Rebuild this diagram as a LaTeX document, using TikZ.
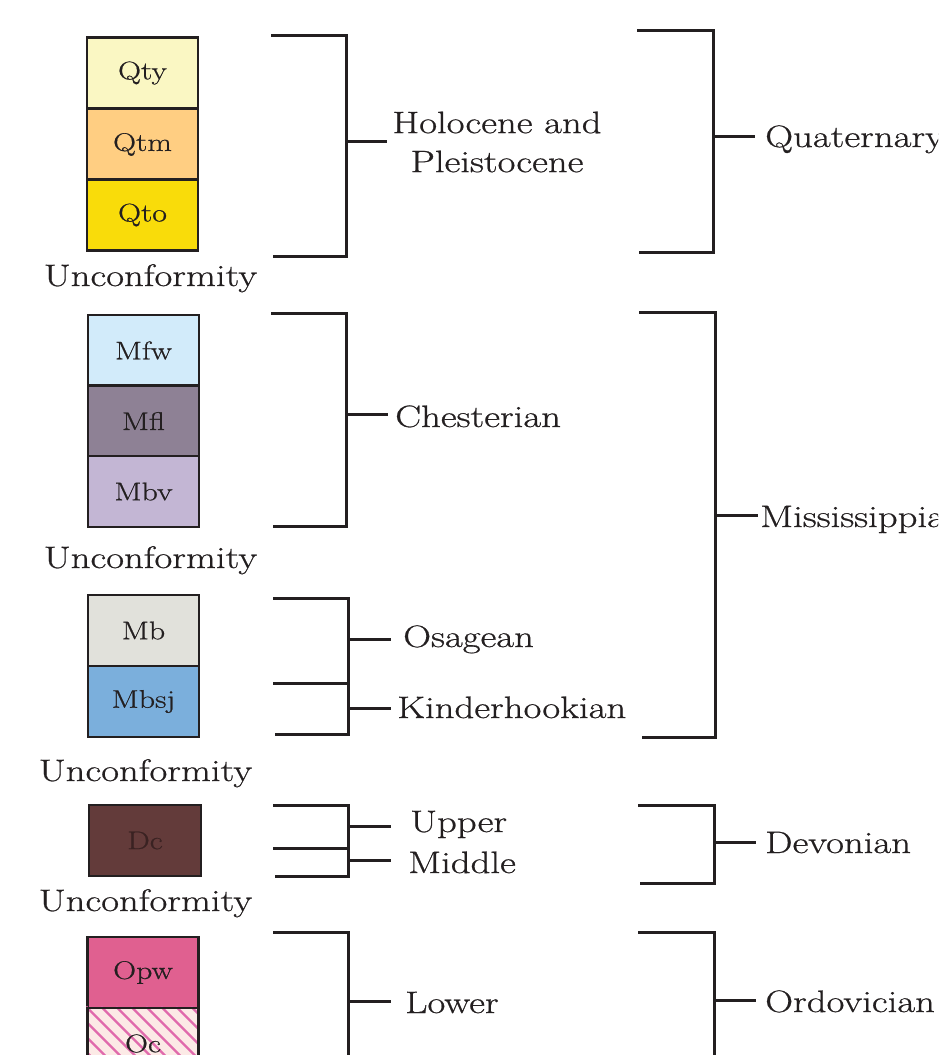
\documentclass[tikz,border=0pt]{standalone}
\usepackage{fontspec}
\setmainfont{Latin Modern Roman}[FakeStretch=1.25, FakeBold=0.7]
\definecolor{ink}{HTML}{231F20}
\definecolor{cQty}{HTML}{FAF7C3}
\definecolor{cQtm}{HTML}{FFCE82}
\definecolor{cQto}{HTML}{F9DC0A}
\definecolor{cMfw}{HTML}{D2EBFA}
\definecolor{cMfl}{HTML}{8E8195}
\definecolor{cMbv}{HTML}{C3B6D4}
\definecolor{cMb}{HTML}{E1E1DB}
\definecolor{cMbsj}{HTML}{7BAFDC}
\definecolor{cDc}{HTML}{633B3A}
\definecolor{cDcText}{HTML}{3A2222}
\definecolor{cOpw}{HTML}{E06090}
\definecolor{cOc}{HTML}{FCEAE6}
\definecolor{cHatch}{HTML}{E06AAC}
\begin{document}
\begin{tikzpicture}[x=1pt,y={(0,-1pt)}]
\tikzset{
  unitbox/.style={draw=ink, line width=2.6pt, minimum width=111pt, minimum height=71pt,
    inner sep=0pt, font=\fontsize{25.5}{28}\selectfont, text=ink},
  lbl/.style={font=\fontsize{31}{39}\selectfont, text=ink, inner ysep=0pt, inner xsep=5pt},
  unconf/.style={font=\fontsize{31}{39}\selectfont, text=ink, inner sep=0pt, anchor=base},
  brk/.style={draw=ink, line width=3pt},
}
\useasboundingbox (0,0) rectangle (938,1055);
\clip (0,0) rectangle (938,1055);

% ---------- rock units ----------
\node[unitbox, fill=cQty] (qty) at (142.5,73) {Qty};
\node[unitbox, fill=cQtm] (qtm) at (142.5,144.5) {Qtm};
\node[unitbox, fill=cQto] (qto) at (142.5,215) {Qto};
\node[unconf] (u1) at (150.5,286) {Unconformity};

\node[unitbox, fill=cMfw] (mfw) at (143.5,350.5) {Mfw};
\node[unitbox, fill=cMfl] (mfl) at (143.5,421) {Mfl};
\node[unitbox, fill=cMbv] (mbv) at (143.5,491.5) {Mbv};
\node[unconf] (u2) at (150.5,568) {Unconformity};

\node[unitbox, fill=cMb] (mb) at (143.5,630.5) {Mb};
\node[unitbox, fill=cMbsj] (mbsj) at (143.5,701.5) {Mbsj};
\node[unconf] (u3) at (145.5,781) {Unconformity};

\node[unitbox, fill=cDc, text=cDcText, minimum width=112pt] (dc) at (145,840.5) {Dc};
\node[unconf] (u4) at (145.5,911) {Unconformity};

\node[unitbox, fill=cOpw] (opw) at (143,972.5) {Opw};
\node[unitbox, fill=cOc, text opacity=0] (oc) at (143,1043.5) {Oc};
\begin{scope}
  \clip (oc.south west) rectangle (oc.north east);
  \foreach \k in {-8,...,10} {
    \draw[cHatch, line width=2.2pt] ([xshift=\k*15pt]oc.north west) -- ++(90,90);
  }
\end{scope}
\node[unitbox, draw=ink, fill=none] at (oc) {Oc};

% ---------- first column of brackets ----------
\draw[brk] (271,35) -| (346,256) -- (273,256);
\coordinate (b1) at (346,141);
\node[lbl, align=center] (hol) at (497,142) {Holocene and\\Pleistocene};
\draw[brk] (b1) -- (b1 -| hol.west);

\draw[brk] (271,313) -| (346,526) -- (273,526);
\coordinate (b2) at (346,414);
\node[lbl, anchor=base west, inner xsep=7pt] (chest) at (388,427) {Chesterian};
\draw[brk] (b2) -- (b2 -| chest.west);

\draw[brk] (273,598) -| (348,734) -- (275,734);
\draw[brk] (273,683) -- (348,683);
\coordinate (b3) at (348,639);
\coordinate (b4) at (348,708);
\node[lbl, anchor=base west, inner xsep=12pt] (osag) at (391,647) {Osagean};
\node[lbl, anchor=base west, inner xsep=6pt] (kind) at (391,718) {Kinderhookian};
\draw[brk] (b3) -- (b3 -| osag.west);
\draw[brk] (b4) -- (b4 -| kind.west);

\draw[brk] (273,805) -| (348,876) -- (275,876);
\draw[brk] (273,848) -- (348,848);
\coordinate (b5) at (348,826);
\coordinate (b6) at (348,860);
\node[lbl, anchor=base west, inner xsep=19pt] (upper) at (391,832) {Upper};
\node[lbl, anchor=base west, inner xsep=17pt] (middle) at (391,873) {Middle};
\draw[brk] (b5) -- (b5 -| upper.west);
\draw[brk] (b6) -- (b6 -| middle.west);

\draw[brk] (273,932) -| (348,1070);
\coordinate (b7) at (348,1001);
\node[lbl, anchor=base west, inner xsep=14pt] (lower) at (391,1013) {Lower};
\draw[brk] (b7) -- (b7 -| lower.west);

% ---------- second column of brackets ----------
\draw[brk] (637,30) -| (713,252) -- (639,252);
\coordinate (c1) at (713,136);
\node[lbl, anchor=base west, inner xsep=10pt] (quat) at (755,147) {Quaternary};
\draw[brk] (c1) -- (c1 -| quat.west);

\draw[brk] (639,312) -| (715,737) -- (642,737);
\coordinate (c2) at (715,515);
\node[lbl, anchor=base west, inner xsep=2pt] (miss) at (758,527) {Mississippian};
\draw[brk] (c2) -- (c2 -| miss.west);

\draw[brk] (638,805) -| (714,883) -- (640,883);
\coordinate (c3) at (714,842);
\node[lbl, anchor=base west, inner xsep=9pt] (dev) at (756,853) {Devonian};
\draw[brk] (c3) -- (c3 -| dev.west);

\draw[brk] (638,932) -| (714,1070);
\coordinate (c4) at (714,1000);
\node[lbl, anchor=base west, inner xsep=9pt] (ord) at (756,1012) {Ordovician};
\draw[brk] (c4) -- (c4 -| ord.west);
\end{tikzpicture}
\end{document}
